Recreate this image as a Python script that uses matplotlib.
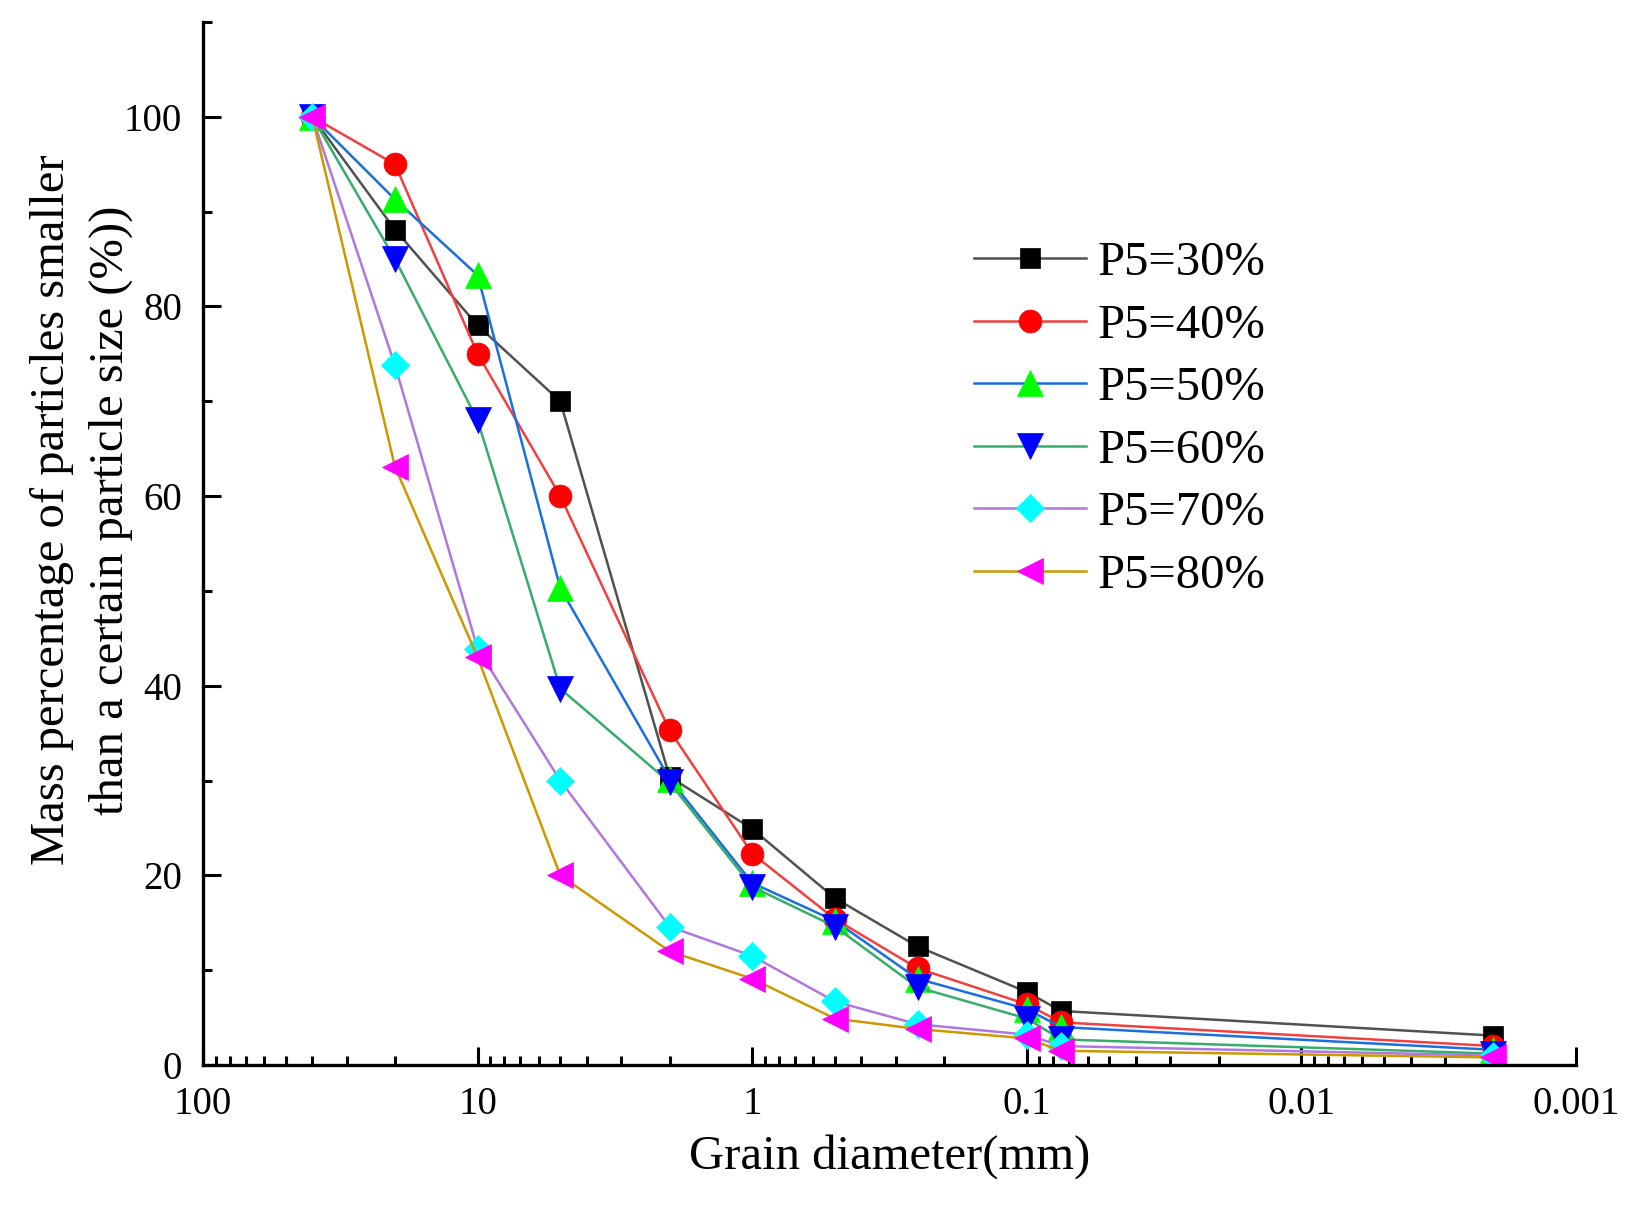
import matplotlib
matplotlib.use("Agg")
import matplotlib.pyplot as plt
from matplotlib.ticker import FixedLocator, FixedFormatter, LogLocator, NullFormatter, MultipleLocator

plt.rcParams['font.family'] = ['Liberation Serif', 'DejaVu Serif']

# Data
grain_d = [40, 20, 10, 5, 2, 1, 0.5, 0.25, 0.1, 0.075, 0.002]
p30 = [100, 88.1, 78.0, 70.0, 30.4, 24.9, 17.6, 12.5, 7.7, 5.7, 3.1]
p40 = [100, 95.0, 75.0, 60.0, 35.3, 22.3, 15.4, 10.2, 6.4, 4.5, 2.0]
p50 = [100, 91.3, 83.3, 50.3, 30.2, 19.2, 15.2, 9.1, 5.9, 4.0, 1.6]
p60 = [100, 85.0, 68.0, 39.7, 29.8, 18.8, 14.6, 8.2, 4.9, 2.7, 1.2]
p70 = [100, 73.8, 43.9, 30.0, 14.6, 11.5, 6.7, 4.3, 3.2, 2.0, 1.0]
p80 = [100, 63.1, 43.0, 20.0, 12.0, 9.1, 4.9, 3.8, 2.8, 1.5, 0.8]
series_labels = ['P5=30%', 'P5=40%', 'P5=50%', 'P5=60%', 'P5=70%', 'P5=80%']
x_ticks = [100, 10, 1, 0.1, 0.01, 0.001]
x_ticklabels = ['100', '10', '1', '0.1', '0.01', '0.001']
y_ticks = [0, 20, 40, 60, 80, 100]

line_colors = ['#515151', '#F14040', '#1A6FDF', '#37AD6B', '#B177DE', '#CC9900']
marker_colors = ['#000000', '#FF0000', '#00FF00', '#0000FF', '#00FFFF', '#FF00FF']
markers = ['s', 'o', '^', 'v', 'D', '<']
msizes = [14.5, 16.5, 19, 19, 14.5, 19]

fig = plt.figure(figsize=(16.41, 12.05), dpi=100)
ax = fig.add_axes([203/1641, 1 - 1065/1205, (1576-203)/1641, (1065-22)/1205])

all_series = [p30, p40, p50, p60, p70, p80]
for ys, lab, lc, mc, mk, ms in zip(all_series, series_labels, line_colors, marker_colors, markers, msizes):
    ax.plot(grain_d, ys, color=lc, lw=1.8, marker=mk, markersize=ms,
            markerfacecolor=mc, markeredgecolor=mc, markeredgewidth=0.5, label=lab)

ax.set_xscale('log')
ax.set_xlim(100, 0.001)
ax.set_ylim(0, 110)

ax.xaxis.set_major_locator(FixedLocator(x_ticks))
ax.xaxis.set_major_formatter(FixedFormatter(x_ticklabels))
ax.xaxis.set_minor_locator(LogLocator(base=10, subs=range(2, 10), numticks=20))
ax.xaxis.set_minor_formatter(NullFormatter())
ax.yaxis.set_major_locator(FixedLocator(y_ticks))
ax.yaxis.set_minor_locator(MultipleLocator(10))

for s in ['top', 'right']:
    ax.spines[s].set_visible(False)
for s in ['left', 'bottom']:
    ax.spines[s].set_linewidth(2.4)

ax.tick_params(which='major', direction='in', length=13, width=2.2, labelsize=28, pad=15)
ax.tick_params(which='minor', direction='in', length=6.5, width=2.2)

ax.set_xlabel('Grain diameter(mm)', fontsize=35, labelpad=8)
ax.set_ylabel('Mass percentage of particles smaller\nthan a certain particle size (%))', fontsize=35,
              linespacing=1.42)
ax.yaxis.set_label_coords(-0.051, 0.532)

leg = fig.legend(loc='upper left', bbox_to_anchor=(974/1641, 1 - 241/1205), frameon=False,
                 fontsize=35, handlelength=2.3, handletextpad=0.25, labelspacing=0.38,
                 borderpad=0, borderaxespad=0)

fig.savefig('out.png', dpi=100)
